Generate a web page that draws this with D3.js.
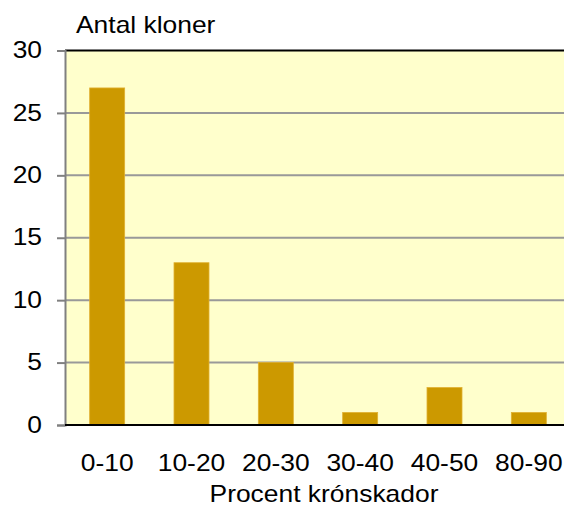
<!DOCTYPE html>
<html>
<head>
<meta charset="utf-8">
<script src="https://cdn.jsdelivr.net/npm/d3@7"></script>
<style>
  html, body { margin: 0; padding: 0; background: #ffffff; }
  svg { display: block; }
  text { font-family: Arial, "Liberation Sans", sans-serif; fill: #000; }
</style>
</head>
<body>
<svg id="chart" width="564" height="506"></svg>
<script>
// Number of clones per crown-damage class
const categories = ["0-10", "10-20", "20-30", "30-40", "40-50", "80-90"];
const counts = [27, 13, 5, 1, 3, 1];
const yTicks = [0, 5, 10, 15, 20, 25, 30];
const yTitle = "Antal kloner";
const xTitle = "Procent krónskador";

const svg = d3.select("#chart");
const plotLeft = 65, plotRight = 571, plotTop = 50.5, plotBottom = 425;
const fontSize = 24;
const widen = 1.1; // slightly wide lettering

// stretch text horizontally while keeping its anchor
function stretch(sel) {
  sel.each(function () {
    const w = this.getComputedTextLength();
    d3.select(this).attr("textLength", w * widen).attr("lengthAdjust", "spacingAndGlyphs");
  });
}

const x = d3.scaleBand().domain(categories).range([plotLeft, plotRight])
  .paddingInner(0.585).paddingOuter(0.2925);
const y = d3.scaleLinear().domain([0, 30]).range([plotBottom, plotTop]);

// plot background
svg.append("rect")
  .attr("x", plotLeft).attr("y", plotTop)
  .attr("width", plotRight - plotLeft).attr("height", plotBottom - plotTop)
  .attr("fill", "#ffffcc");

// horizontal gridlines
svg.append("g").selectAll("line")
  .data(yTicks.filter(d => d > 0 && d < 30))
  .join("line")
  .attr("x1", plotLeft).attr("x2", plotRight)
  .attr("y1", d => y(d)).attr("y2", d => y(d))
  .attr("stroke", "#999999").attr("stroke-width", 2);

// top frame line
svg.append("line")
  .attr("x1", plotLeft).attr("x2", plotRight)
  .attr("y1", y(30)).attr("y2", y(30))
  .attr("stroke", "#000").attr("stroke-width", 2);

// bars
svg.append("g").selectAll("rect")
  .data(counts)
  .join("rect")
  .attr("x", (d, i) => x(categories[i]))
  .attr("y", d => y(d))
  .attr("width", x.bandwidth())
  .attr("height", d => y(0) - y(d))
  .attr("fill", "#cc9900")
  .attr("stroke", "#e0b030")
  .attr("stroke-width", 0.8);

// y axis
const yAxis = d3.axisLeft(y).tickValues(yTicks).tickSize(8).tickPadding(15)
  .tickFormat(d3.format("d"));
const gy = svg.append("g").attr("transform", `translate(${plotLeft},0)`).call(yAxis);
gy.select(".domain").attr("stroke", "#808080").attr("stroke-width", 2);
gy.selectAll(".tick line").attr("stroke", "#808080").attr("stroke-width", 2);
gy.selectAll(".tick text")
  .attr("font-size", fontSize).attr("font-family", "Arial, 'Liberation Sans', sans-serif")
  .attr("fill", "#000").attr("dy", "0.3em")
  .call(stretch);

// baseline
svg.append("line")
  .attr("x1", plotLeft).attr("x2", plotRight)
  .attr("y1", y(0)).attr("y2", y(0))
  .attr("stroke", "#000").attr("stroke-width", 2);

// x axis labels
const xAxis = d3.axisBottom(x).tickSize(0).tickPadding(0);
const gx = svg.append("g").attr("transform", `translate(0,${plotBottom})`).call(xAxis);
gx.select(".domain").remove();
gx.selectAll(".tick text")
  .attr("font-size", fontSize).attr("font-family", "Arial, 'Liberation Sans', sans-serif")
  .attr("fill", "#000").attr("dy", null).attr("y", 46)
  .call(stretch);

// titles
svg.append("text")
  .attr("x", 76).attr("y", 33)
  .attr("font-size", fontSize)
  .text(yTitle)
  .call(stretch);

svg.append("text")
  .attr("x", 324).attr("y", 502)
  .attr("text-anchor", "middle")
  .attr("font-size", fontSize)
  .text(xTitle)
  .call(stretch);
</script>
</body>
</html>
